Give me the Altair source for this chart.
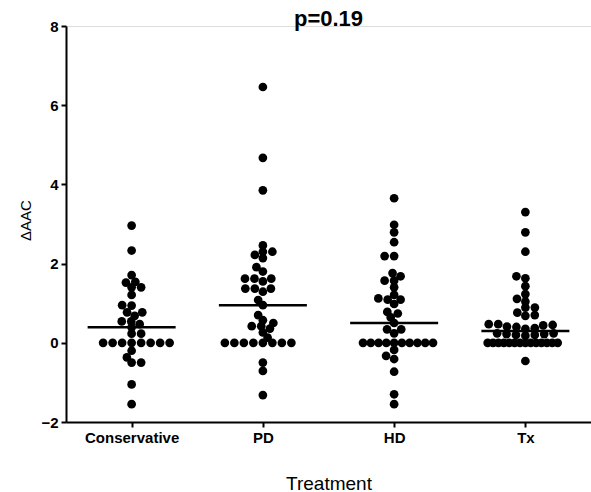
import json
import math
from collections import Counter

import altair as alt
import pandas as pd

# ΔAAC per patient, by treatment group
groups = ["Conservative", "PD", "HD", "Tx"]

conservative = [2.96, 2.33, 1.71, 1.54, 1.52, 1.40, 1.40, 1.21, 0.95, 0.94,
                0.77, 0.77, 0.68, 0.54, 0.54, 0.47, 0.39, 0.23, 0.23,
                0.0, 0.0, 0.0, 0.0, 0.0, 0.0, 0.0, 0.0,
                -0.20, -0.37, -0.50, -0.50, -1.05, -1.55]

pd_group = [6.46, 4.67, 3.85, 2.46, 2.30, 2.30, 2.22, 2.14, 1.91, 1.80,
            1.62, 1.62, 1.62, 1.55, 1.37, 1.37, 1.37, 1.29, 1.08, 0.95,
            0.70, 0.57, 0.50, 0.42, 0.42, 0.36, 0.26, 0.13,
            0.0, 0.0, 0.0, 0.0, 0.0, 0.0, 0.0, 0.0,
            -0.50, -0.71, -1.32]

hd_group = [3.65, 2.98, 2.79, 2.54, 2.19, 2.19, 1.76, 1.68, 1.57, 1.57,
            1.40, 1.21, 1.12, 1.09, 1.09, 0.98, 0.78, 0.74, 0.64, 0.50,
            0.34, 0.34, 0.24,
            0.0, 0.0, 0.0, 0.0, 0.0, 0.0, 0.0, 0.0, 0.0, 0.0,
            -0.18, -0.33, -0.41, -0.73, -1.30, -1.55]

tx_group = [3.30, 2.79, 2.30, 1.68, 1.63, 1.43, 1.23, 1.11, 1.04, 0.89,
            0.89, 0.76, 0.70, 0.68, 0.47, 0.45, 0.41, 0.37, 0.35, 0.40,
            0.44, 0.47, 0.24, 0.22, 0.20, 0.18, 0.20, 0.22, 0.24,
            0.0, 0.0, 0.0, 0.0, 0.0, 0.0, 0.0, 0.0, 0.0, 0.0, 0.0, 0.0, 0.0, 0.0,
            -0.46]

series = [conservative, pd_group, hd_group, tx_group]

y_ticks = [-2, 0, 2, 4, 6, 8]

# plot-area geometry (pixels)
W, H = 525, 396
STEP = W / len(groups)
PX_PER_UNIT = H / (y_ticks[-1] - y_ticks[0])
DOT_D = 9.5          # dot spacing used by the swarm layout
ROW_SQUEEZE = 1.6    # vertical distances count this much more, so rows may overlap a little
TIE_HALF = 35.0      # half-width allowed for a row of identical values


def swarm_offsets(values):
    """Beeswarm layout: horizontal pixel offset for each value."""
    counts = Counter(values)
    order = sorted(range(len(values)), key=lambda i: values[i])
    placed = []  # (index, x)
    xs = [0.0] * len(values)
    flip = 1
    for i in order:
        yi = values[i] * PX_PER_UNIT
        n_tie = counts[values[i]]
        tie_s = min(DOT_D, 2 * TIE_HALF / (n_tie - 1)) if n_tie > 1 else DOT_D

        def sep(j):
            if values[j] == values[i]:
                return tie_s
            dy = abs(yi - values[j] * PX_PER_UNIT) * ROW_SQUEEZE
            if dy >= DOT_D:
                return 0.0
            return math.sqrt(DOT_D * DOT_D - dy * dy)

        cands = [0.0]
        for j, xj in placed:
            s = sep(j)
            if s > 0:
                cands += [xj + s, xj - s]
        cands.sort(key=lambda c: (round(abs(c), 6), c * flip))
        for c in cands:
            if all(abs(c - xj) >= sep(j) - 1e-6 for j, xj in placed):
                xs[i] = c
                break
        placed.append((i, xs[i]))
        flip = -flip
    return xs


rows = []
for gi, (name, vals) in enumerate(zip(groups, series)):
    offs = swarm_offsets(vals)
    for v, o in zip(vals, offs):
        rows.append({"group": name, "idx": gi, "pos": gi + o / STEP, "value": v})
df = pd.DataFrame(rows)

FONT = "Liberation Sans"
label_expr = json.dumps(groups) + "[datum.value]"

x_scale = alt.Scale(domain=[-0.5, len(groups) - 0.5], nice=False, zero=False)
y_scale = alt.Scale(domain=[y_ticks[0], y_ticks[-1]], nice=False, zero=False)

x_axis = alt.Axis(
    values=list(range(len(groups))), labelExpr=label_expr, grid=False,
    domainColor="black", domainWidth=2, tickColor="black", tickWidth=2, tickSize=5,
    labelFont=FONT, labelFontSize=15, labelFontWeight="bold", labelColor="black",
    labelPadding=3, title="Treatment", titleFont=FONT, titleFontSize=19,
    titleFontWeight="normal", titleColor="black", titleX=W / 2, titleY=61,
    titleBaseline="middle", titleAlign="center",
)
y_axis = alt.Axis(
    values=y_ticks, grid=False, domainColor="black", domainWidth=2,
    tickColor="black", tickWidth=2, tickSize=5, labelFont=FONT, labelFontSize=15,
    labelFontWeight="bold", labelColor="black", labelPadding=3,
    title="ΔAAC", titleFont=FONT, titleFontSize=15, titleFontWeight="normal",
    titleColor="black", titleX=-41, titleY=194, titleBaseline="middle",
    titleAlign="center",
)

dots = alt.Chart(df).mark_circle(size=76, color="black", opacity=1).encode(
    x=alt.X("pos:Q", scale=x_scale, axis=x_axis),
    y=alt.Y("value:Q", scale=y_scale, axis=y_axis),
)

medians = alt.Chart(df).mark_tick(
    color="black", size=88, thickness=2.5, orient="horizontal"
).encode(
    x=alt.X("idx:Q", scale=x_scale),
    y=alt.Y("median(value):Q", scale=y_scale),
)

chart = (
    alt.layer(dots, medians)
    .properties(
        width=W, height=H,
        title=alt.TitleParams("p=0.19", font=FONT, fontSize=22, fontWeight="bold",
                              color="black", anchor="middle", offset=2, dy=14),
        autosize=alt.AutoSizeParams(type="none"),
        padding={"left": 66, "top": 26, "right": 0, "bottom": 70},
    )
    .configure_view(stroke=None)
    .configure(background="white")
)

chart.save("out.html", embed_options={"renderer": "svg", "actions": False})
